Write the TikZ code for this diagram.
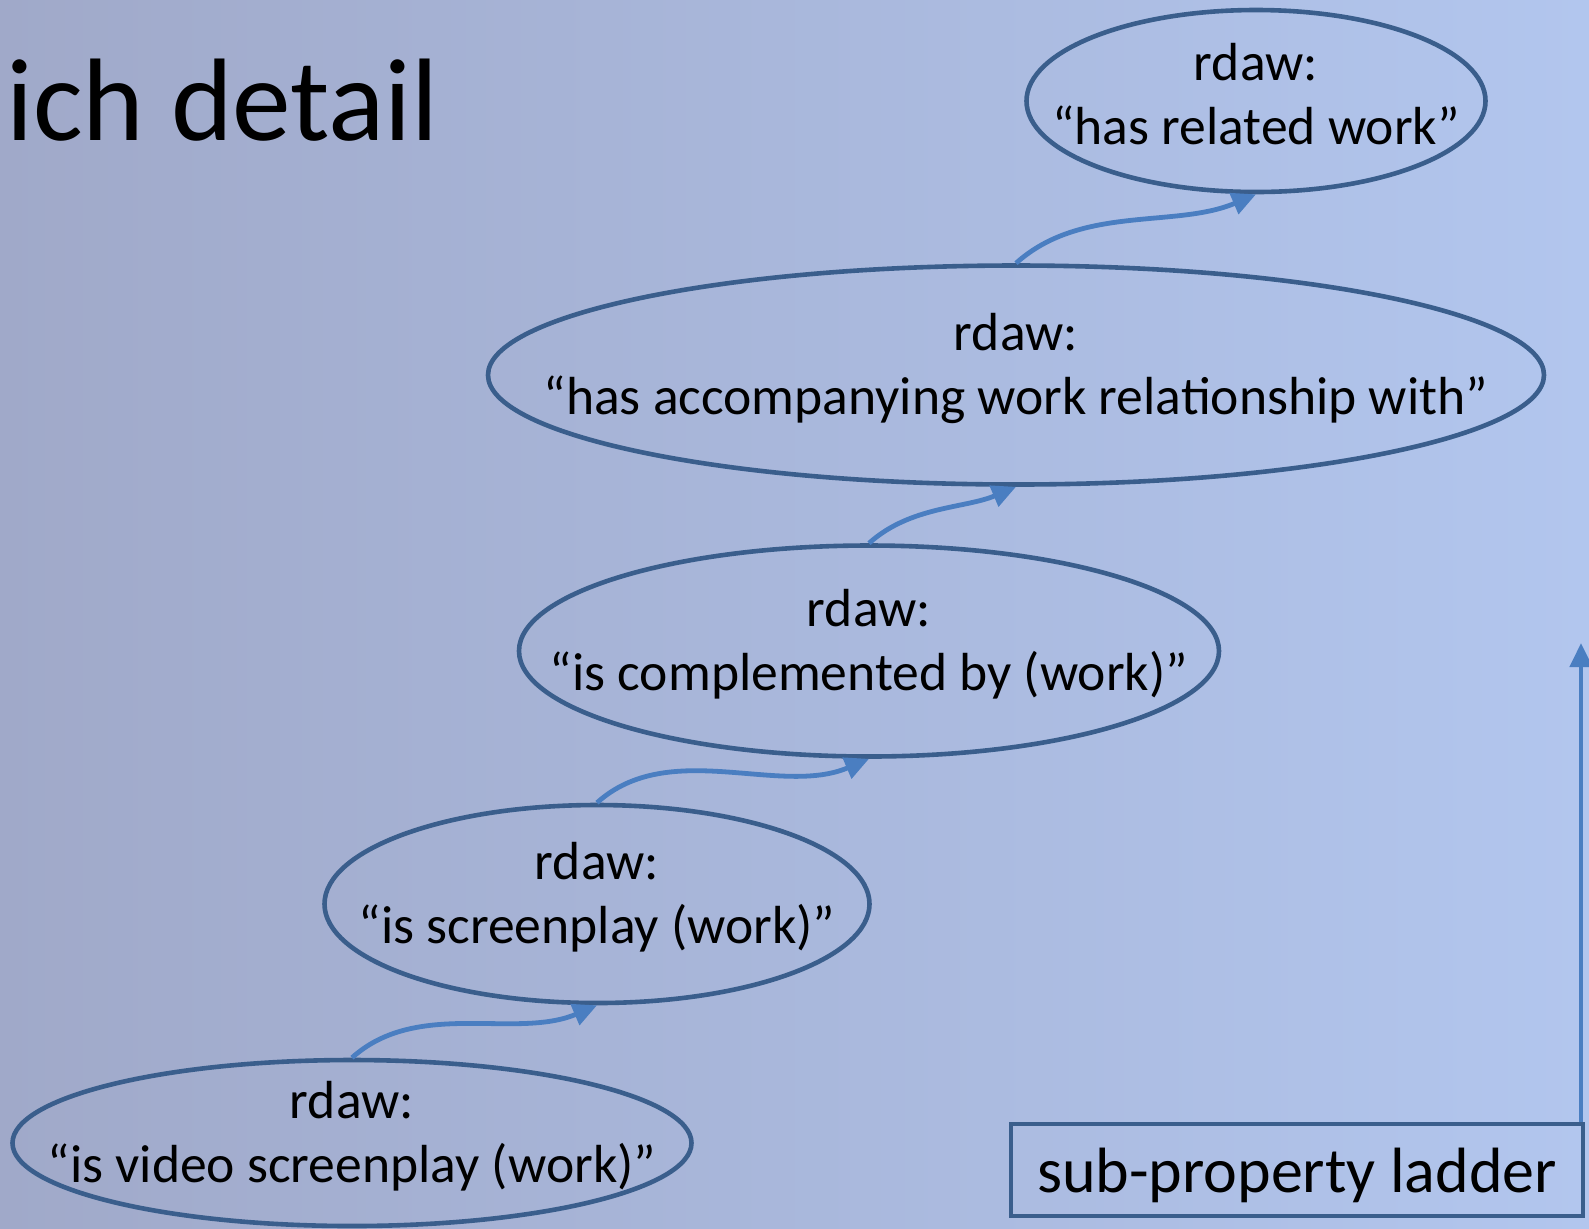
\documentclass[tikz,border=0pt]{standalone}
\usepackage{fontspec}
\setmainfont{Carlito}
\usetikzlibrary{shapes.geometric,arrows.meta}
\definecolor{rim}{RGB}{58, 94, 140}
\definecolor{link}{RGB}{74, 126, 193}
\definecolor{bgleft}{RGB}{160, 169, 201}
\definecolor{bgright}{RGB}{178, 198, 238}
\tikzset{
  relnode/.style = {shape=ellipse, draw=rim, line width=2.3pt, inner sep=0pt},
  reltext/.style = {align=center, inner sep=0pt, yshift=3.5pt,
                    font=\fontsize{26.8}{32}\selectfont},
  subarrow/.style = {draw=link, line width=2.4pt,
                     -{Triangle[length=12pt, width=11pt]}},
  ladderbox/.style = {shape=rectangle, draw=rim, line width=2.3pt,
                      minimum width=286pt, minimum height=46pt, text depth=0pt,
                      font=\fontsize{32}{36}\selectfont},
}

\begin{document}
\begin{tikzpicture}
  [
    x = 0.5pt,
    y = -0.5pt,
  ]
  \shade [left color=bgleft, right color=bgright] (0,0) rectangle (1589,1228);
  \useasboundingbox (0,0) rectangle (1589,1228);
  \node [anchor=base west, inner sep=0pt, font=\fontsize{58.7}{62}\selectfont] (title) at (6,140) {ich detail};
  \node [relnode, minimum width=229.5pt, minimum height=91pt,
         label={[reltext]center:{rdaw:\\“has related work”}}] (related) at (1256,101) {};
  \node [relnode, minimum width=528pt, minimum height=109.5pt,
         label={[reltext]center:{rdaw:\\“has accompanying work relationship with”}}] (accomp) at (1016,375) {};
  \node [relnode, minimum width=350pt, minimum height=105.5pt,
         label={[reltext]center:{rdaw:\\“is complemented by (work)”}}] (complement) at (869,651) {};
  \node [relnode, minimum width=272.5pt, minimum height=99pt,
         label={[reltext]center:{rdaw:\\“is screenplay (work)”}}] (screenplay) at (597,904) {};
  \node [relnode, minimum width=339.5pt, minimum height=83pt,
         label={[reltext]center:{rdaw:\\“is video screenplay (work)”}}] (video) at (352,1143) {};
  \node [ladderbox] (ladder) at (1297,1170) {sub-property ladder};
  \coordinate (ladtop) at (1581,643);
  \draw [subarrow] (video.north) to [out=42, in=203, looseness=0.9] (screenplay.south);
  \draw [subarrow] (screenplay.north) to [out=42, in=203, looseness=0.9] (complement.south);
  \draw [subarrow] (complement.north) to [out=42, in=203, looseness=0.9] (accomp.south);
  \draw [subarrow] (accomp.north) to [out=42, in=203, looseness=0.9] (related.south);
  \draw [subarrow] (ladder.north -| ladtop) -- (ladtop);
\end{tikzpicture}
\end{document}
